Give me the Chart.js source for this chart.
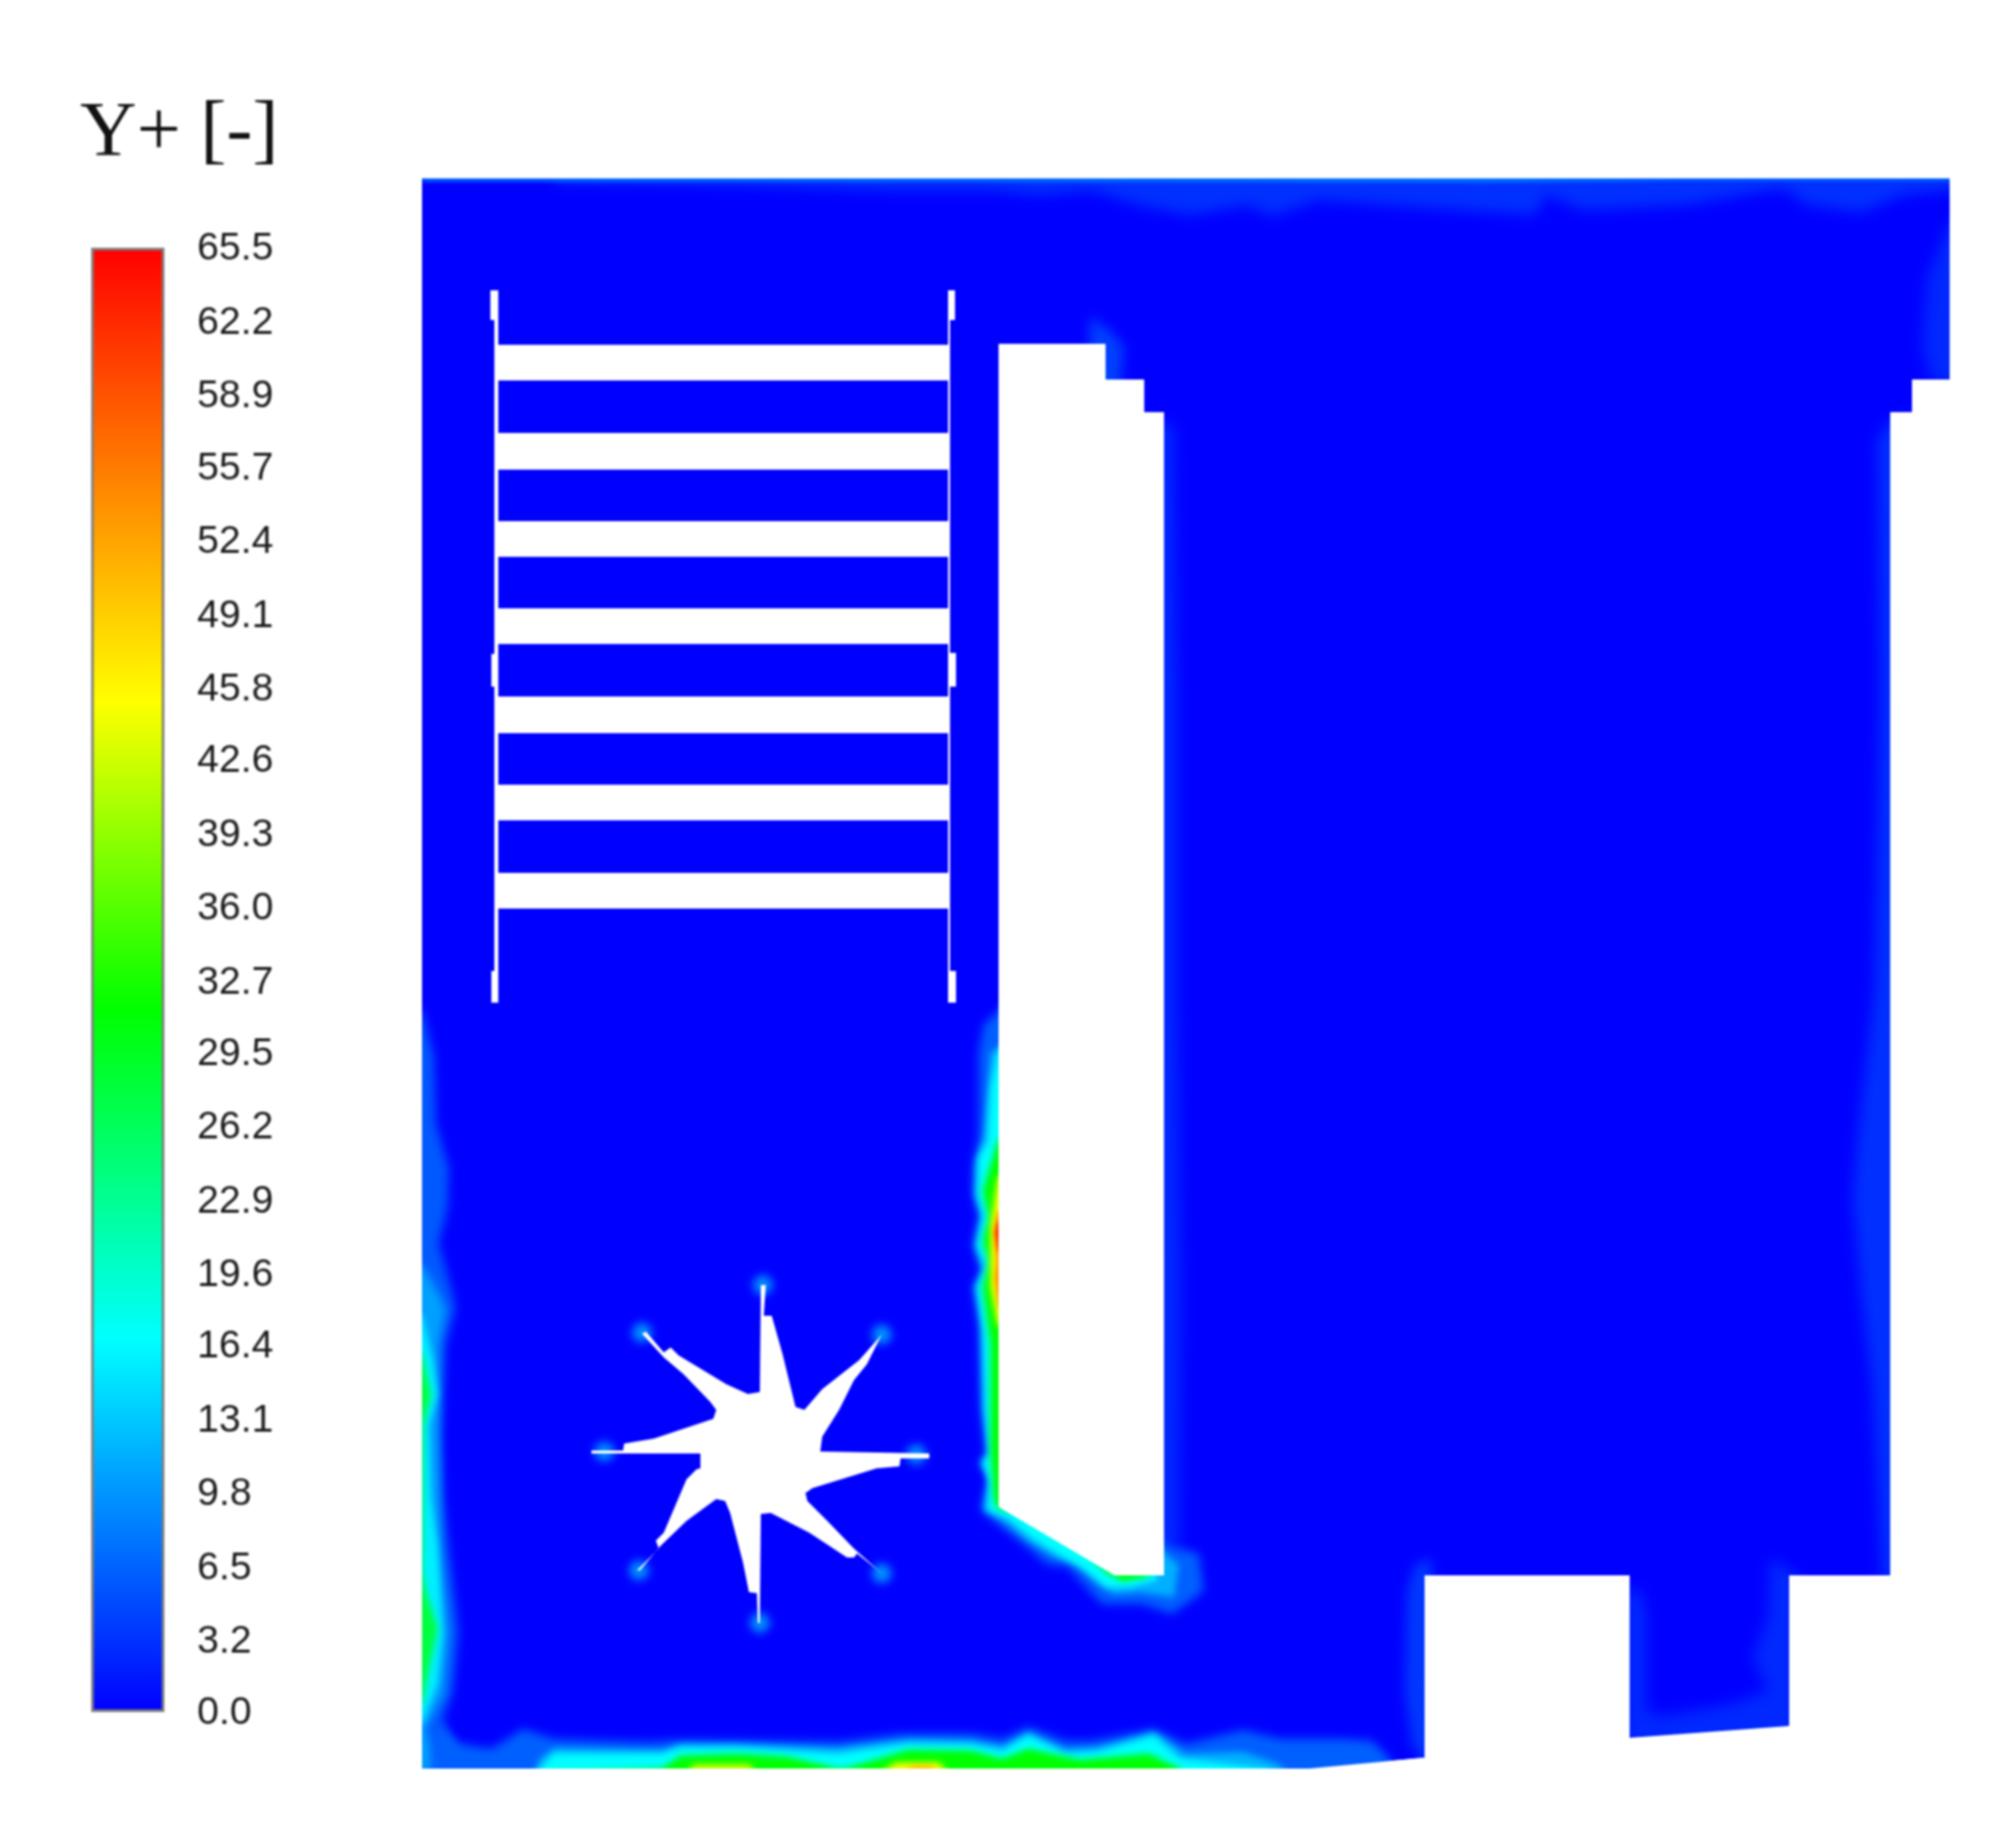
<!DOCTYPE html>
<html>
<head>
<meta charset="utf-8">
<title>Y+ contour</title>
<script src="https://cdn.jsdelivr.net/npm/chart.js@4"></script>
<style>
  html, body { margin: 0; padding: 0; background: #fff; }
  canvas { position: absolute; left: 0; top: 0; filter: blur(0.8px); }
</style>
</head>
<body>
<canvas id="campo" width="2035" height="1844"></canvas>
<canvas id="escala" width="400" height="1844"></canvas>
<script>
// legenda
const tickLabels = ['65.5','62.2','58.9','55.7','52.4','49.1','45.8','42.6','39.3','36.0','32.7','29.5','26.2','22.9','19.6','16.4','13.1','9.8','6.5','3.2','0.0'];
const colorStops = [[0, '#ff0000'], [0.31, '#ffff00'], [0.52, '#00ff00'], [0.745, '#00ffff'], [1, '#0000ff']];

// geometria, em px da imagem
const domainOutline = [[426,180],[1968,180],[1968,383],[1930,383],[1930,416],[1908,416],[1908,1590],[1806,1590],[1806,1742],[1645,1754],[1645,1590],[1438,1590],[1438,1774],[1322,1785],[426,1785]];
const baffleOutline = [[1008,347],[1116,347],[1116,383],[1155,383],[1155,416],[1175,416],[1175,1590],[1125,1590],[1008,1521]];
const starOutline = [[768,1297],[773,1297],[771,1328],[779,1328],[790,1367],[803,1420],[812,1423],[830,1402],[867,1373],[868,1372],[890,1347],[875,1377],[862,1393],[847,1423],[830,1450],[828,1465],[938,1467],[938,1472],[909,1472],[908,1480],[885,1482],[820,1502],[813,1507],[815,1515],[837,1537],[862,1563],[890,1588],[865,1568],[862,1572],[855,1572],[817,1547],[778,1527],[768,1528],[767,1638],[765,1638],[764,1608],[756,1607],[750,1577],[737,1527],[732,1515],[723,1513],[693,1535],[667,1560],[646,1585],[643,1585],[665,1563],[662,1555],[670,1547],[693,1493],[703,1483],[707,1482],[707,1467],[597,1467],[597,1464],[629,1464],[630,1457],[660,1452],[720,1432],[723,1423],[717,1415],[690,1387],[670,1370],[648,1346],[652,1344],[670,1365],[677,1360],[685,1368],[733,1397],[755,1407],[767,1405]];
const slatTops = [348,437,526,614,703,792,881];
const slatBottoms = [384,474,562,650,740,828,917];
const railLeft = [[495,293],[503,293],[503,323],[503,660],[503,693],[503,980],[503,1012],[496,1012],[496,980],[499,980],[499,693],[496,693],[496,660],[499,660],[499,323],[495,323]];
const railRight = [[957,293],[964,293],[964,323],[959,323],[959,659],[965,659],[965,693],[959,693],[959,980],[965,980],[965,1012],[957,1012]];
const starTipX = [770,890,925,890,767,645,610,648];
const starTipY = [1297,1347,1468,1588,1638,1585,1465,1345];

// contornos de Y+
const topFaint = [[560,170],[560,184],[700,186],[900,192],[1000,192],[1050,197],[1100,192],[1150,207],[1200,217],[1260,207],[1285,218],[1330,202],[1400,207],[1550,217],[1560,197],[1600,212],[1700,207],[1800,190],[1825,207],[1880,214],[1920,197],[1980,190],[1980,170]];
const topEdge = [[426,170],[426,183],[1000,183],[1500,184],[1700,182],[1980,182],[1980,170]];
const rightUpper = [[1980,220],[1968,225],[1945,280],[1940,350],[1950,385],[1980,385]];
const rightLower = [[1930,420],[1908,425],[1895,445],[1898,700],[1892,1000],[1875,1150],[1870,1210],[1878,1300],[1890,1400],[1900,1595],[1930,1595]];
const notchLeft = [[1445,1572],[1428,1580],[1420,1607],[1418,1707],[1425,1760],[1445,1790]];
const channelLeft = [[1640,1600],[1658,1610],[1662,1633],[1662,1727],[1679,1732],[1746,1720],[1784,1707],[1769,1673],[1784,1633],[1787,1573],[1815,1590],[1815,1760],[1640,1760]];
const bafflePatch = [[1100,320],[1120,333],[1135,350],[1130,395],[1100,395]];
const baffleEast = [[1150,420],[1185,430],[1188,700],[1188,1000],[1192,1300],[1190,1560],[1150,1570]];
const leftFaint = [[426,1020],[438,1066],[440,1133],[453,1179],[452,1219],[443,1255],[457,1306],[460,1321],[450,1357],[445,1449],[447,1510],[453,1561],[463,1648],[457,1709],[447,1735],[460,1760],[475,1790],[410,1790],[410,1020]];
const leftMid = [[426,1276],[443,1306],[450,1321],[443,1357],[443,1449],[445,1561],[453,1648],[448,1709],[430,1745],[445,1790],[410,1790],[410,1276]];
const leftCyan = [[426,1327],[437,1372],[442,1408],[433,1439],[435,1510],[442,1561],[447,1648],[442,1699],[426,1740],[410,1740],[410,1327]];
const leftGreen = [[426,1367],[435,1408],[427,1439],[426,1587],[430,1607],[442,1643],[433,1684],[426,1719],[410,1719],[410,1367]];
const bottomFaint = [[440,1743],[464,1760],[496,1765],[528,1745],[559,1755],[655,1758],[687,1756],[846,1758],[910,1750],[980,1750],[1012,1755],[1038,1743],[1076,1757],[1102,1757],[1165,1745],[1197,1760],[1255,1746],[1293,1755],[1357,1755],[1385,1757],[1403,1775],[1420,1810],[430,1810]];
const bottomMid = [[530,1810],[545,1775],[559,1764],[668,1766],[687,1760],[744,1760],[846,1764],[917,1755],[980,1756],[1012,1762],[1038,1748],[1076,1765],[1108,1763],[1165,1748],[1197,1770],[1255,1768],[1290,1780],[1320,1810]];
const bottomCyan = [[537,1810],[545,1785],[559,1770],[668,1770],[687,1764],[744,1764],[846,1770],[917,1760],[980,1761],[1012,1767],[1038,1752],[1076,1770],[1108,1768],[1165,1752],[1191,1775],[1280,1785],[1290,1810]];
const bottomGreen = [[545,1810],[553,1790],[668,1785],[687,1772],[744,1770],[795,1773],[846,1785],[853,1785],[917,1766],[980,1767],[1012,1775],[1038,1765],[1090,1776],[1160,1770],[1191,1785],[1200,1810]];
const bottomYellowA = [[680,1810],[700,1781],[757,1781],[776,1810]];
const bottomYellowB = [[860,1810],[904,1779],[948,1779],[975,1810]];
const bottomOrange = [[900,1810],[920,1783],[940,1783],[955,1810]];
const baffleFaint = [[1030,1000],[993,1034],[988,1063],[988,1147],[983,1173],[982,1206],[988,1227],[982,1257],[990,1282],[982,1299],[988,1337],[990,1421],[995,1467],[988,1476],[997,1492],[990,1524],[1013,1543],[1040,1564],[1057,1579],[1077,1581],[1100,1606],[1113,1619],[1153,1619],[1183,1629],[1215,1606],[1210,1568],[1180,1560],[1100,1500]];
const baffleMid = [[1030,1040],[1000,1063],[993,1147],[985,1173],[984,1206],[990,1227],[984,1257],[992,1282],[984,1299],[990,1337],[992,1421],[997,1467],[990,1476],[998,1492],[993,1524],[1015,1537],[1040,1557],[1065,1572],[1085,1578],[1110,1600],[1125,1609],[1150,1607],[1185,1612],[1190,1580],[1100,1500]];
const baffleCyan = [[1030,1040],[1007,1063],[1000,1097],[997,1152],[988,1168],[987,1206],[993,1227],[987,1257],[995,1278],[987,1299],[993,1345],[995,1421],[999,1467],[993,1476],[999,1497],[997,1524],[1017,1532],[1040,1551],[1067,1568],[1093,1583],[1117,1602],[1140,1602],[1167,1595],[1170,1560],[1100,1500]];
const baffleGreen = [[1030,1130],[1007,1152],[992,1202],[998,1229],[992,1252],[998,1274],[992,1299],[1000,1358],[1000,1463],[1003,1510],[1006,1522],[1030,1526],[1100,1570],[1118,1588],[1133,1596],[1160,1591],[1160,1540],[1100,1500]];
const baffleYellow = [[1030,1170],[1007,1189],[1000,1236],[1000,1269],[1000,1299],[1007,1337],[1030,1350]];
const baffleOrange = [[1030,1210],[1007,1223],[1003,1244],[1006,1272],[1004,1290],[1008,1320],[1030,1330]];
const baffleRed = [[1030,1225],[1008,1232],[1005,1244],[1008,1262],[1030,1270]];

function pontos(lista) {
    return lista.map(p => ({ x: p[0], y: p[1] }));
}

function retangulo(x0, y0, x1, y1) {
    return [[x0, y0], [x1, y0], [x1, y1], [x0, y1]];
}

function poligono(lista, cor, blurPx) {
    return {
        data: pontos(lista),
        showLine: true,
        fill: 'shape',
        backgroundColor: cor,
        borderWidth: 0,
        pointRadius: 0,
        tension: 0,
        blurPx: blurPx || 0
    };
}

const datasets = [];
datasets.push(poligono(domainOutline, '#0000ff'));

// faixas desfocadas, de fora para dentro
const faixas = [
    [topFaint, '#0030ff', 7], [topEdge, '#0078ff', 2], [rightUpper, '#0028ff', 7], [rightLower, '#0030ff', 7],
    [notchLeft, '#0038ff', 6], [channelLeft, '#0028ff', 7], [bafflePatch, '#0040ff', 6], [baffleEast, '#0028ff', 7],
    [leftFaint, '#0058ff', 5], [leftMid, '#00a0ff', 4], [leftCyan, '#00f0ff', 3], [leftGreen, '#00ff40', 3],
    [bottomFaint, '#0060ff', 5], [bottomMid, '#00b0ff', 3], [bottomCyan, '#00ffff', 3], [bottomGreen, '#00ff00', 3],
    [bottomYellowA, '#e0ff00', 3], [bottomYellowB, '#ffff00', 3], [bottomOrange, '#ffb000', 3],
    [baffleFaint, '#0060ff', 5], [baffleMid, '#00b0ff', 3], [baffleCyan, '#00ffff', 3], [baffleGreen, '#00ff00', 3],
    [baffleYellow, '#ffff00', 3], [baffleOrange, '#ff9000', 2], [baffleRed, '#ff2000', 2]
];
faixas.forEach(f => datasets.push(poligono(f[0], f[1], f[2])));

// brilho nas pontas do rotor
datasets.push({
    data: starTipX.map((x, i) => ({ x: x, y: starTipY[i] })),
    showLine: false,
    pointRadius: 10,
    pointBorderWidth: 0,
    pointBackgroundColor: '#0090ff',
    blurPx: 4
});

// tudo que fica fora do dominio: anel branco
const anel = [[0, 0], [2035, 0], [2035, 1844], [0, 1844], [0, 0], [426, 180]]
    .concat(domainOutline.slice(1).reverse())
    .concat([[426, 180], [0, 0]]);
datasets.push(poligono(anel, '#ffffff'));
datasets.push(poligono(baffleOutline, '#ffffff'));
datasets.push(poligono(starOutline, '#ffffff'));
datasets.push(poligono(railLeft, '#ffffff'));
datasets.push(poligono(railRight, '#ffffff'));
slatTops.forEach((t, i) => datasets.push(poligono(retangulo(499, t, 959, slatBottoms[i]), '#ffffff')));

// ordem de desenho = ordem do vetor
datasets.forEach((d, i) => { d.order = -i; });

// o filler pinta antes dos hooks do dataset, entao o filtro fica armado no dataset anterior
const desfoque = {
    id: 'desfoque',
    afterDatasetDraw(chart, args) {
        const prox = chart.data.datasets[args.index + 1];
        chart.ctx.filter = prox && prox.blurPx ? 'blur(' + prox.blurPx + 'px)' : 'none';
    },
    afterDatasetsDraw(chart) {
        chart.ctx.filter = 'none';
    }
};

new Chart(document.getElementById('campo'), {
    type: 'scatter',
    data: { datasets: datasets },
    plugins: [desfoque],
    options: {
        responsive: false,
        animation: false,
        devicePixelRatio: 1,
        layout: { autoPadding: false, padding: 0 },
        plugins: { legend: { display: false }, tooltip: { enabled: false } },
        events: [],
        scales: {
            x: { type: 'linear', display: false, min: 0, max: 2035 },
            y: { type: 'linear', display: false, min: 0, max: 1844, reverse: true }
        }
    }
});

function gradienteEscala(context) {
    const area = context.chart.chartArea;
    if (!area) return '#0000ff';
    const g = context.chart.ctx.createLinearGradient(0, area.top, 0, area.bottom);
    colorStops.forEach(s => g.addColorStop(s[0], s[1]));
    return g;
}

new Chart(document.getElementById('escala'), {
    type: 'bar',
    data: {
        labels: ['Y+'],
        datasets: [{
            yAxisID: 'y',
            data: [[parseFloat(tickLabels[tickLabels.length - 1]), parseFloat(tickLabels[0])]],
            backgroundColor: gradienteEscala,
            borderColor: '#808080',
            borderWidth: 3,
            borderSkipped: false,
            barPercentage: 1,
            categoryPercentage: 1
        }]
    },
    options: {
        responsive: false,
        animation: false,
        devicePixelRatio: 1,
        layout: { padding: { left: 72, right: 110, bottom: 116, top: 0 } },
        events: [],
        plugins: {
            legend: { display: false },
            tooltip: { enabled: false },
            title: {
                display: true,
                text: 'Y+ [-]',
                color: '#111',
                font: { family: '"Liberation Serif"', size: 79, weight: 'normal', lineHeight: 1 },
                padding: { top: 96, bottom: 75 }
            }
        },
        scales: {
            x: { display: false },
            // eixo vazio, so para a barra comecar em x=92 e o titulo ficar centrado
            folga: {
                position: 'left',
                grid: { display: false, drawTicks: false },
                border: { display: false },
                ticks: { display: false },
                afterFit(scale) { scale.width = 20; }
            },
            y: {
                position: 'right',
                min: 0,
                max: 65.5,
                grid: { display: false, drawTicks: false },
                border: { display: false },
                afterFit(scale) { scale.width = 124; },
                // 0.07 desce o texto ~1.5px, o baseline middle fica alto na Liberation
                afterBuildTicks(scale) {
                    scale.ticks = tickLabels.map(t => ({ value: parseFloat(t) - 0.07 }));
                },
                ticks: {
                    autoSkip: false,
                    padding: 33,
                    crossAlign: 'near',
                    color: '#1a1a1a',
                    font: { family: '"Liberation Sans"', size: 39.5 },
                    callback: (v, i) => tickLabels[i]
                }
            }
        }
    }
});
</script>
</body>
</html>
